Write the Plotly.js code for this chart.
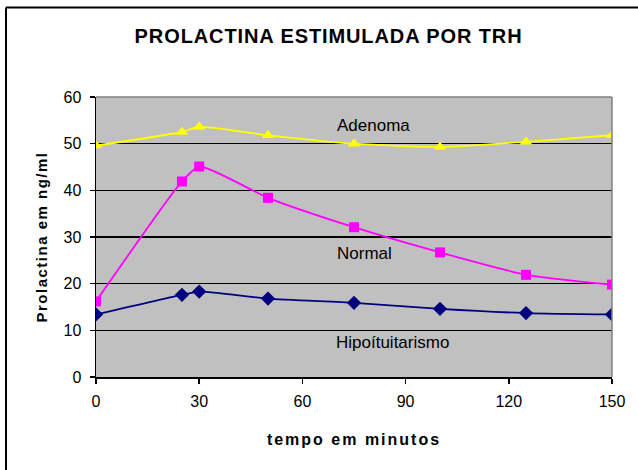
<!DOCTYPE html>
<html>
<head>
<meta charset="utf-8">
<script src="https://cdn.plot.ly/plotly-3.0.1.min.js"></script>
<style>
html,body{margin:0;padding:0;background:#fff;}
#chart{width:638px;height:470px;}
.gtitle{letter-spacing:0.9px;}
.xtitle{letter-spacing:2px;}
.ytitle{letter-spacing:1.5px;}
</style>
</head>
<body>
<div id="chart"></div>
<script>
const tempo = [0, 25, 30, 50, 75, 100, 125, 150];
const adenoma = [49.6, 52.5, 53.6, 51.8, 50.0, 49.3, 50.4, 51.8];
const normal = [16.2, 41.9, 45.1, 38.4, 32.1, 26.7, 21.9, 19.8];
const hipopituitarismo = [13.4, 17.6, 18.3, 16.8, 15.9, 14.6, 13.7, 13.4];
const xTicks = [0, 30, 60, 90, 120, 150];
const yTicks = [0, 10, 20, 30, 40, 50, 60];

const traces = [
  {x: tempo, y: hipopituitarismo, mode: 'lines+markers', name: 'Hipoítuitarismo',
   line: {color: '#000080', width: 1.8, shape: 'spline', smoothing: 0.6},
   marker: {symbol: 'diamond', size: 11, color: '#000080'}},
  {x: tempo, y: normal, mode: 'lines+markers', name: 'Normal',
   line: {color: '#FF00FF', width: 1.8, shape: 'spline', smoothing: 0.6},
   marker: {symbol: 'square', size: 10, color: '#FF00FF'}},
  {x: tempo, y: adenoma, mode: 'lines+markers', name: 'Adenoma',
   line: {color: '#FFFF00', width: 1.8, shape: 'spline', smoothing: 0.6},
   marker: {symbol: 'triangle-up', size: 11, color: '#FFFF00'}}
];

const W = 638, H = 470, ml = 96, mr = 26, mt = 97, mb = 93;
const pw = W - ml - mr, ph = H - mt - mb;
const px = v => (v - ml) / pw;
const py = v => (H - mb - v) / ph;

const layout = {
  width: W, height: H,
  margin: {l: ml, r: mr, t: mt, b: mb, pad: 0},
  paper_bgcolor: '#ffffff',
  plot_bgcolor: '#C0C0C0',
  showlegend: false,
  font: {family: 'Liberation Sans, Arial, sans-serif', color: '#000', size: 16},
  title: {text: '<b>PROLACTINA ESTIMULADA POR TRH</b>', x: 0.515, xanchor: 'center',
          y: 1 - 36 / H, yanchor: 'middle',
          font: {size: 20, family: 'Liberation Sans, Arial, sans-serif', color: '#000'}},
  xaxis: {range: [0, 150], tickvals: xTicks, ticktext: xTicks.map(String),
          showgrid: false, zeroline: false, showline: true, linecolor: '#000', linewidth: 1.5,
          ticks: 'outside', ticklen: 5, tickcolor: '#000', tickwidth: 1.5,
          ticklabelstandoff: 4,
          tickfont: {size: 16}, fixedrange: true,
          title: {text: '<b>tempo em minutos</b>', standoff: 25,
                  font: {size: 16}}},
  yaxis: {range: [0, 60], tickvals: yTicks, ticktext: yTicks.map(String),
          showgrid: true, gridcolor: '#000', gridwidth: 1.5, zeroline: false,
          showline: true, linecolor: '#000', linewidth: 1.5,
          ticks: 'outside', ticklen: 5, tickcolor: '#000', tickwidth: 1.5,
          ticklabelstandoff: 5,
          tickfont: {size: 16}, fixedrange: true,
          title: {text: '<b>Prolactina em ng/ml</b>', standoff: 12,
                  font: {size: 15}}},
  annotations: [
    {x: 80.8, y: 53.9, xref: 'x', yref: 'y', text: 'Adenoma', showarrow: false, font: {size: 17}},
    {x: 78.1, y: 26.5, xref: 'x', yref: 'y', text: 'Normal', showarrow: false, font: {size: 17}},
    {x: 86.3, y: 7.5, xref: 'x', yref: 'y', text: 'Hipoítuitarismo', showarrow: false, font: {size: 17}}
  ],
  shapes: [
    {type: 'line', xref: 'paper', yref: 'paper', x0: 1, x1: 1, y0: 0, y1: 1,
     line: {color: '#808080', width: 1.5}},
    {type: 'line', xref: 'paper', yref: 'paper', x0: 0, x1: 1, y0: 1, y1: 1,
     line: {color: '#808080', width: 1.5}},
    {type: 'line', xref: 'paper', yref: 'paper', x0: px(6), x1: px(6), y0: py(7.5), y1: py(475),
     line: {color: '#000', width: 2}},
    {type: 'line', xref: 'paper', yref: 'paper', x0: px(6), x1: px(645), y0: py(7.5), y1: py(7.5),
     line: {color: '#000', width: 2}}
  ]
};

Plotly.newPlot('chart', traces, layout, {displayModeBar: false, staticPlot: true});
</script>
</body>
</html>
